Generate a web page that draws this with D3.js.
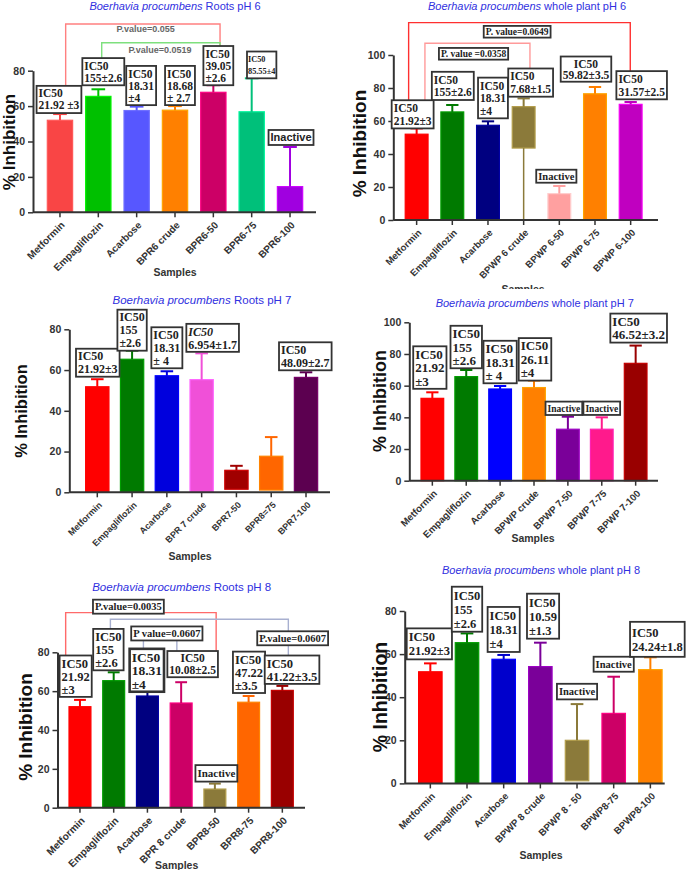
<!DOCTYPE html>
<html>
<head>
<meta charset="utf-8">
<script src="https://cdn.jsdelivr.net/npm/d3@7"></script>
<style>
  body { margin: 0; background: #fff; }
  svg { display: block; }
</style>
</head>
<body>
<svg id="chart" width="686" height="870"></svg>
<script>
// ---- data ----
const cats1 = ["Metformin", "Empagliflozin", "Acarbose", "BPR6 crude", "BPR6-50", "BPR6-75", "BPR6-100"];
const mean1 = [52, 65.5, 57.5, 57.7, 67.8, 56.8, 14.5];
const err1 = [3.5, 4, 2.2, 2.3, 4, 18.9, 22.4];
const ic1 = [["IC50", "21.92 ±3"], ["IC50", "155±2.6"], ["IC50", "18.31", "±4"], ["IC50", "18.68", "± 2.7"], ["IC50", "39.05", "±2.6"], ["IC50", "85.55±4"], ["Inactive"]];
const pv1 = ["P.value=0.055", "P.value=0.0519"];

const cats2 = ["Metformin", "Empagliflozin", "Acarbose", "BPWP 6 crude", "BPWP 6-50", "BPWP 6-75", "BPWP 6-100"];
const mean2 = [52, 65.5, 57.4, 68.7, 16, 76.5, 70.1];
const err2 = [3.5, 4.2, 2.4, 5, 4.6, 4.1, 1.4];
const base2 = [0, 0, 0, 43.6, 0, 0, 0];
const low2 = [null, null, null, 0, null, null, null];
const ic2 = [["IC50", "21.92±3"], ["IC50", "155±2.6"], ["IC50", "18.31", "±4"], ["IC50", "7.68±1.5"], ["Inactive"], ["IC50", "59.82±3.5"], ["IC50", "31.57±2.5"]];
const pv2 = ["P. value=0.0649", "P. value =0.0358"];

const cats3 = ["Metformin", "Empagliflozin", "Acarbose", "BPR 7 crude", "BPR7-50", "BPR8=75", "BPR7-100"];
const mean3 = [51.8, 65.3, 57.2, 55.3, 10.8, 17.7, 56.4];
const err3 = [3.7, 4.2, 2.2, 12.9, 2.2, 9.4, 2.5];
const base3 = [0, 0, 0, 0, 1.5, 1.1, 0];
const ic3 = [["IC50", "21.92±3"], ["IC50", "155", "±2.6"], ["IC50", "18.31", "± 4"], ["IC50", "6.954±1.7"], null, null, ["IC50", "48.09±2.7"]];

const cats4 = ["Metformin", "Empagliflozin", "Acarbose", "BPWP crude", "BPWP 7-50", "BPWP 7-75", "BPWP 7-100"];
const mean4 = [52, 65.7, 57.9, 58.8, 32.5, 32.5, 74.1];
const err4 = [3.8, 4.2, 1.9, 4.4, 7.9, 7.5, 11.2];
const ic4 = [["IC50", "21.92", "±3"], ["IC50", "155", "±2.6"], ["IC50", "18.31", "± 4"], ["IC50", "26.11", "±4"], ["Inactive"], ["Inactive"], ["IC50", "46.52±3.2"]];

const cats5 = ["Metformin", "Empagliflozin", "Acarbose", "BPR 8 crude", "BPR8-50", "BPR8-75", "BPR8-100"];
const mean5 = [52, 65.4, 57.5, 53.9, 9.6, 54.3, 60.4];
const err5 = [3.5, 4.3, 2.2, 10.7, 2.8, 3.2, 2.3];
const ic5 = [["IC50", "21.92", "±3"], ["IC50", "155", "±2.6"], ["IC50", "18.31", "±4"], ["IC50", "10.08±2.5"], ["Inactive"], ["IC50", "47.22", "±3.5"], ["IC50", "41.22±3.5"]];
const pv5 = ["P.value=0.0035", "P.value=0.0607", "P value=0.0607"];

const cats6 = ["Metformin", "Empagliflozin", "Acarbose", "BPWP 8 crude", "BPWP 8 - 50", "BPWP8-75", "BPWP8-100"];
const mean6 = [51.8, 65.3, 57.6, 54.2, 20, 32.5, 52.8];
const err6 = [3.9, 4.3, 2, 11.1, 16.8, 17, 5.7];
const base6 = [0, 0, 0, 0, 1.2, 0, 0];
const ic6 = [["IC50", "21.92±3"], ["IC50", "155", "±2.6"], ["IC50", "18.31", "±4"], ["IC50", "10.59", "±1.3"], ["Inactive"], ["Inactive"], ["IC50", "24.24±1.8"]];

// ---- colours ----
const colors1 = ["#f94545", "#00c000", "#5757ff", "#ff8000", "#cc0066", "#00c07a", "#a000e0"];
const colors2 = ["#ff0000", "#007a00", "#000080", "#8b7a3a", "#ffa0a0", "#ff8000", "#c000c0"];
const colors3 = ["#ff0000", "#007a00", "#0000dd", "#f050d8", "#a00000", "#ff6600", "#5c0050"];
const colors4 = ["#ff0000", "#007a00", "#0000ff", "#ff8000", "#7a0099", "#ff1a8c", "#990000"];
const colors5 = ["#ff0000", "#007a00", "#000080", "#cc0066", "#8b7a3a", "#ff6600", "#990000"];
const colors6 = ["#ff0000", "#007a00", "#0000cc", "#7a0099", "#8b7a3a", "#cc0066", "#ff8000"];

const SANS = "'Liberation Sans', Arial, sans-serif";
const SERIF = "'Liberation Serif', 'Times New Roman', serif";
const AX = "#333";

// ---- layout of each panel ----
const panels = [
  { cats: cats1, mean: mean1, err: err1, colors: colors1, ic: ic1, pv: pv1,
    left: 33, right: 316, y0: 212.3, yTop: 70.7, max: 80, xr: [40.8, 309.2], pad: 0.34,
    title: " Roots pH 6", tx: 175, ty: 10, tfs: 11,
    ylab: [9, 142, 17], xlab: [175, 272], xfs: 10,
    adx: [-1, 5, 4.5, 5, 5, 10, 1], gap: [1, 4, 1.5, 1, 0, 0, 2],
    box: { fs: 11.5, lh: 12, px: 2, py: 1.6 },
    boxOpt: { 5: { fs: 8.3, lh: 11.4, py: 2, px: 1 }, 6: { ff: SANS, fs: 11, lh: 12, py: 1.5 } },
    brackets: [
      { a: 0, da: 5.7, b: 4, db: 6.7, level: 106.4, color: "#ff8080", lx: 2.8, ly: 5.3, plain: true },
      { a: 1, da: 3.4, b: 4, db: 6.7, level: 95.8, color: "#7ee07e", lx: -0.9, ly: 6.7, plain: true }
    ] },
  { cats: cats2, mean: mean2, err: err2, base: base2, low: low2, colors: colors2, ic: ic2, pv: pv2,
    left: 393.3, right: 658, y0: 220, yTop: 55, max: 100, xr: [398.8, 648.5], pad: 0.36,
    title: " whole plant pH 6", tx: 527, ty: 10, tfs: 11,
    ylab: [359.7, 143.5, 19], xlab: [523, 289], xfs: 9.5, clip: [343, 0, 343, 289],
    adx: [-4, 0.5, 5, 7, -3, -9, 11], gap: [0, 5, 3, 1.7, 3.3, 5.3, 2.7],
    box: { fs: 11.5, lh: 12.5, px: 2, py: 1.6 },
    boxOpt: { 4: { fs: 10.5, lh: 11, py: 1 }, 5: { align: "center", lh: 11 } },
    pbox: { fs: 9.5, lh: 10.5, px: 2, py: 0.6 },
    brackets: [
      { a: 0, da: -8, b: 6, db: -0.4, level: 119.6, color: "#ff3030", lx: -2.3, ly: 9.1 },
      { a: 0, da: 8.3, b: 3, db: 6.3, level: 107.1, color: "#ff9a9a", lx: -3.9, ly: 10.5 }
    ] },
  { cats: cats3, mean: mean3, err: err3, base: base3, colors: colors3, ic: ic3,
    left: 69.3, right: 330, y0: 492.3, yTop: 329.3, max: 80, xr: [79.9, 323.4], pad: 0.33,
    title: " Roots pH 7", tx: 202, ty: 304, tfs: 11.5,
    ylab: [21.7, 411, 16.5], xlab: [190, 556], xfs: 9,
    adx: [0.5, 0, 0, 11, 0, 0, -0.7], gap: [2.5, 0, 3, 1.5, 0, 0, 2],
    box: { fs: 12, lh: 13, px: 2, py: 1 },
    boxOpt: { 3: { italic0: true } } },
  { cats: cats4, mean: mean4, err: err4, colors: colors4, ic: ic4,
    left: 409.3, right: 658, y0: 480.7, yTop: 322.3, max: 100, xr: [415.4, 652.6], pad: 0.33,
    title: " whole plant pH 7", tx: 534.7, ty: 306.5, tfs: 11,
    ylab: [380, 401, 18], xlab: [533, 538], xfs: 9.7,
    adx: [-2.5, 0, 0, 1, -4, 0, 3], gap: [3.5, 1.7, 2.7, 0, 1.7, 2.4, 3],
    box: { fs: 13, lh: 13.5, px: 2, py: 1 },
    boxOpt: { 4: { fs: 9.5, lh: 11, py: 1.2 }, 5: { fs: 9.5, lh: 11, py: 1.2 } } },
  { cats: cats5, mean: mean5, err: err5, colors: colors5, ic: ic5, pv: pv5,
    left: 57.5, right: 305, y0: 807.7, yTop: 652.3, max: 80, xr: [63.1, 299.2], pad: 0.35,
    title: " Roots pH 8", tx: 181.7, ty: 590.5, tfs: 11.5,
    ylab: [25, 727, 19], xlab: [176.7, 865], xfs: 10.2,
    adx: [-4.3, -5.3, -0.6, 11.5, 1.5, 0.4, 9.7], gap: [3, 2, 0, 5, 2, 3, 2],
    box: { fs: 12.5, lh: 13, px: 2, py: 1.2 },
    boxOpt: { 2: { fs: 13.5, lh: 13.5, sw: 2.6 }, 3: { align: "center", fs: 11.5, lh: 12.5, py: 0.6 }, 4: { fs: 11, lh: 12.5, py: 2 } },
    pbox: { fs: 10.5, lh: 12, px: 2, py: 1 },
    brackets: [
      { a: 0, da: -14.3, b: 3, db: 35, level: 100.4, color: "#ff6a6a", lx: -12.5, ly: -6 },
      { a: 1, da: -3.3, b: 6, db: 6, level: 97, color: "#a8b0d0", lx: 93.3, ly: 19 },
      { a: 2, da: -4, b: 3, db: -4.3, level: 89.7, color: "#a8b0d0", lx: 6.7, ly: 0 }
    ] },
  { cats: cats6, mean: mean6, err: err6, base: base6, colors: colors6, ic: ic6,
    left: 404.7, right: 664.7, y0: 783.4, yTop: 611, max: 80, xr: [412, 668.7], pad: 0.36,
    title: " whole plant pH 8", tx: 541, ty: 574, tfs: 11,
    ylab: [379.7, 697, 19.5], xlab: [541, 855], xfs: 9.7,
    adx: [-1, 0, 0, 2.7, 0, 0, 7], gap: [4, 1.7, 3, 4, 4.7, 5, 0.5],
    box: { fs: 12.5, lh: 14, px: 2, py: 1.5 },
    boxOpt: { 4: { fs: 10.5, lh: 12, py: 1.8 }, 5: { fs: 10.5, lh: 12, py: 1.5 }, 6: { py: 3.5 } } }
];

const svg = d3.select("#chart");

function drawBox(g, lines, s, cx, top, h) {
  const grp = g.append("g");
  const rect = grp.append("rect");
  const texts = lines.map((t, k) => grp.append("text")
    .attr("font-family", s.ff || SERIF).attr("font-weight", "bold").attr("font-size", s.fs)
    .attr("font-style", s.italic0 && k === 0 ? "italic" : null)
    .attr("fill", s.color || "#222").text(t));
  const w = d3.max(texts, t => t.node().getComputedTextLength()) + 2 * s.px;
  const x0 = cx - w / 2;
  texts.forEach((t, k) => {
    const tw = t.node().getComputedTextLength();
    t.attr("x", s.align === "center" ? cx - tw / 2 : x0 + s.px)
      .attr("y", top + s.py + s.lh * (k + 0.5)).attr("dy", "0.35em");
  });
  rect.attr("x", x0).attr("y", top).attr("width", w).attr("height", h)
    .attr("fill", "#fff").attr("stroke", "#333").attr("stroke-width", s.sw || 1.8);
}

function drawPanel(p, n) {
  const g = svg.append("g");
  if (p.clip) {
    svg.append("clipPath").attr("id", "clip" + n).append("rect")
      .attr("x", p.clip[0]).attr("y", p.clip[1]).attr("width", p.clip[2]).attr("height", p.clip[3]);
    g.attr("clip-path", `url(#clip${n})`);
  }
  const x = d3.scaleBand().domain(p.cats).range(p.xr).paddingInner(p.pad).paddingOuter(p.pad / 2);
  const y = d3.scaleLinear().domain([0, p.max]).range([p.y0, p.yTop]);
  const bw = x.bandwidth();
  const rows = p.cats.map((c, i) => ({
    c, i, m: p.mean[i], e: p.err[i], b: p.base ? p.base[i] : 0,
    lo: p.low ? p.low[i] : null, col: p.colors[i]
  }));
  const cx = d => x(d.c) + bw / 2;

  // annotation box geometry
  const boxes = p.ic.map((lines, i) => {
    if (!lines) return null;
    const s = Object.assign({}, p.box, (p.boxOpt && p.boxOpt[i]) || {});
    const h = lines.length * s.lh + 2 * s.py;
    const bottom = y(p.mean[i] + p.err[i]) - p.gap[i];
    return { lines, s, cx: cx(rows[i]) + p.adx[i], top: bottom - h, h };
  });

  // significance brackets
  const labels = [];
  (p.brackets || []).forEach((br, k) => {
    const xa = cx(rows[br.a]) + br.da, xb = cx(rows[br.b]) + br.db, yl = y(br.level);
    g.append("path")
      .attr("d", `M${xa},${boxes[br.a].top}V${yl}H${xb}V${boxes[br.b].top}`)
      .attr("fill", "none").attr("stroke", br.color).attr("stroke-width", 1.4);
    labels.push({ text: p.pv[k], x: (xa + xb) / 2 + br.lx, y: yl + br.ly, plain: br.plain });
  });

  // bars
  g.selectAll("rect.bar").data(rows).join("rect").attr("class", "bar")
    .attr("x", d => x(d.c)).attr("width", bw)
    .attr("y", d => y(d.m)).attr("height", d => y(d.b) - y(d.m))
    .attr("fill", d => d.col)
    .attr("stroke", d => d3.color(d.col).brighter(0.7)).attr("stroke-width", 1.2);

  // error bars (upper)
  g.selectAll("line.err").data(rows).join("line").attr("class", "err")
    .attr("x1", cx).attr("x2", cx).attr("y1", d => y(d.m)).attr("y2", d => y(d.m + d.e))
    .attr("stroke", d => d.col).attr("stroke-width", 2);
  g.selectAll("line.cap").data(rows).join("line").attr("class", "cap")
    .attr("x1", d => cx(d) - bw * 0.27).attr("x2", d => cx(d) + bw * 0.27)
    .attr("y1", d => y(d.m + d.e)).attr("y2", d => y(d.m + d.e))
    .attr("stroke", d => d.col).attr("stroke-width", 2);
  // lower whisker where the bar floats
  g.selectAll("line.low").data(rows.filter(d => d.lo !== null)).join("line").attr("class", "low")
    .attr("x1", cx).attr("x2", cx).attr("y1", d => y(d.b)).attr("y2", d => y(d.lo))
    .attr("stroke", d => d.col).attr("stroke-width", 1.5);

  // y axis
  const yg = g.append("g").attr("transform", `translate(${p.left},0)`)
    .call(d3.axisLeft(y).tickValues(d3.range(0, p.max + 1, 20)).tickSize(5).tickSizeOuter(0).tickPadding(3));
  yg.select(".domain").attr("stroke", AX).attr("stroke-width", 2);
  yg.selectAll(".tick line").attr("stroke", AX).attr("stroke-width", 1.5);
  yg.selectAll(".tick text").attr("font-family", SANS).attr("font-weight", "bold")
    .attr("font-size", 10.5).attr("fill", AX);

  // x axis
  const xg = g.append("g").attr("transform", `translate(0,${p.y0})`)
    .call(d3.axisBottom(x).tickSize(5).tickSizeOuter(0).tickFormat(""));
  xg.select(".domain").remove();
  xg.selectAll(".tick line").attr("stroke", AX).attr("stroke-width", 1.5);
  g.append("line").attr("x1", p.left).attr("x2", p.right).attr("y1", p.y0).attr("y2", p.y0)
    .attr("stroke", AX).attr("stroke-width", 2);
  g.selectAll("text.xt").data(rows).join("text").attr("class", "xt")
    .attr("transform", d => `translate(${cx(d) + 3},${p.y0 + 11}) rotate(-45)`)
    .attr("text-anchor", "end").attr("dy", "0.35em")
    .attr("font-family", SANS).attr("font-weight", "bold").attr("font-size", p.xfs)
    .attr("fill", AX).text(d => d.c);

  // annotation boxes
  boxes.forEach(b => { if (b) drawBox(g, b.lines, b.s, b.cx, b.top, b.h); });

  // p-value labels
  labels.forEach(l => {
    if (l.plain) {
      g.append("text").attr("x", l.x).attr("y", l.y).attr("dy", "0.35em").attr("text-anchor", "middle")
        .attr("font-family", SANS).attr("font-weight", "bold").attr("font-size", 9)
        .attr("fill", "#666").text(l.text);
    } else {
      const s = p.pbox;
      const h = s.lh + 2 * s.py;
      drawBox(g, [l.text], s, l.x, l.y - h / 2, h);
    }
  });

  // titles
  const t = g.append("text").attr("x", p.tx).attr("y", p.ty).attr("text-anchor", "middle")
    .attr("font-family", SANS).attr("font-size", p.tfs).attr("fill", "#3030e0");
  t.append("tspan").attr("font-style", "italic").text("Boerhavia procumbens");
  t.append("tspan").text(p.title);

  g.append("text").attr("transform", `translate(${p.ylab[0]},${p.ylab[1]}) rotate(-90)`)
    .attr("text-anchor", "middle").attr("dy", "0.35em")
    .attr("font-family", SANS).attr("font-weight", "bold").attr("font-size", p.ylab[2])
    .attr("fill", "#111").text("% Inhibition");

  g.append("text").attr("x", p.xlab[0]).attr("y", p.xlab[1]).attr("dy", "0.35em")
    .attr("text-anchor", "middle").attr("font-family", SANS).attr("font-weight", "bold")
    .attr("font-size", 10.5).attr("fill", AX).text("Samples");
}

panels.forEach(drawPanel);
</script>
</body>
</html>
